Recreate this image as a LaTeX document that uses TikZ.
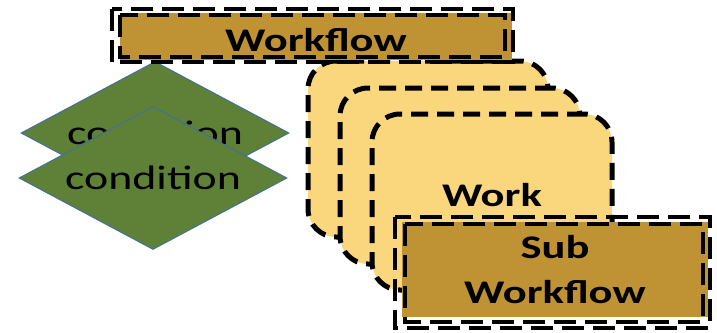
\documentclass[tikz,border=0pt]{standalone}
\usepackage{fontspec}
\newfontfamily\diagfont[FakeStretch=1.35]{Carlito}
\usetikzlibrary{shapes.geometric}
\definecolor{flowbrown}{HTML}{BF9233}
\definecolor{workyellow}{HTML}{FAD77C}
\definecolor{condgreen}{HTML}{5E8037}
\definecolor{condline}{HTML}{41719C}
\tikzset{
  flowfill/.style={fill=flowbrown, draw=none, inner sep=0pt, align=center,
    font=\diagfont\bfseries\fontsize{33}{45}\selectfont},
  flowdash/.style={draw=black, line width=3.5pt, dash pattern=on 22pt off 9pt},
  workbox/.style={fill=workyellow, draw=black, line width=5pt, dash pattern=on 17pt off 9pt,
    rounded corners=28pt, minimum width=240pt, minimum height=176pt, inner sep=0pt,
    font=\diagfont\bfseries\fontsize{33}{45}\selectfont},
  condbox/.style={diamond, aspect=1.9, fill=condgreen, draw=condline, line width=1pt, inner sep=0pt,
    minimum width=268pt, minimum height=143pt, font=\diagfont\fontsize{34}{40}\selectfont},
}
\begin{document}
\begin{tikzpicture}[x=1pt, y=-1pt]
	\useasboundingbox (0,0) rectangle (717,332);
	% conditions
	\node[condbox] (cond1) at (155,133) {condition};
	\node[condbox] (cond2) at (153,178) {condition};
	% work items, back to front
	\node[workbox] (work1) at (428,149) {};
	\node[workbox] (work2) at (460,176) {};
	\node[workbox, text height=23pt, text depth=15pt] (work3) at (492,202) {Work};
	% workflow on top
	\node[flowfill, minimum width=392pt, minimum height=47pt, text height=31pt] (wf) at (316,36.5) {Workflow};
	\draw[flowdash] ([xshift=-8pt,yshift=4pt]wf.north west) rectangle ([xshift=1pt,yshift=-2pt]wf.south east);
	\draw[flowdash] ([yshift=-2pt]wf.north west) rectangle ([xshift=-7pt,yshift=3pt]wf.south east);
	% sub workflow
	\node[flowfill, minimum width=306pt, minimum height=95pt] (subwf) at (555,269.5) {Sub\\Workflow};
	\draw[flowdash] ([xshift=-7pt,yshift=5pt]subwf.north west) rectangle ([xshift=2pt,yshift=-11pt]subwf.south east);
	\draw[flowdash] ([xshift=3pt,yshift=-2pt]subwf.north west) rectangle ([xshift=-5pt,yshift=-5pt]subwf.south east);
\end{tikzpicture}
\end{document}
